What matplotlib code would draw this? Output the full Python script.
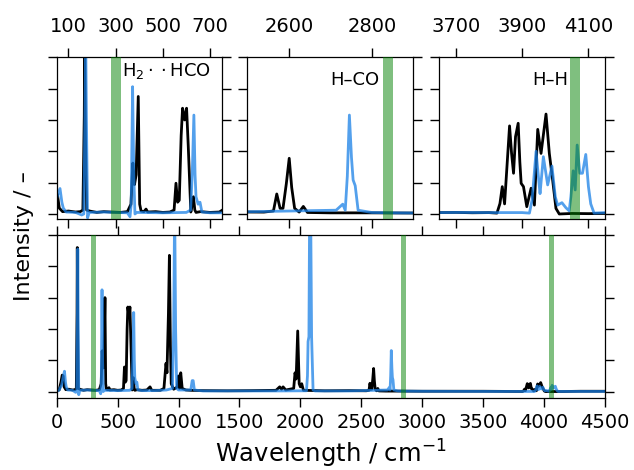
import matplotlib
matplotlib.use("Agg")
import matplotlib.pyplot as plt

# ---------------- data (normalised intensity, bottom-panel units) ----------------
black_x = [0, 20, 35, 45, 53, 61, 75, 100, 130, 150, 161, 167, 169, 172, 177, 190, 220, 250,
           280, 320, 350, 365, 373, 380, 387, 396, 402, 408, 420, 429, 436, 470, 500, 530,
           548, 556, 563, 570, 578, 584, 593, 601, 608, 613, 619, 625, 630, 636, 641, 660,
           700, 740, 766, 780, 850, 880, 897, 905, 917, 925, 933, 940, 960, 990, 999, 1008,
           1018, 1030, 1060, 1100, 1200, 1400, 1600, 1800, 1830, 1845, 1858, 1880, 1945,
           1956, 1965, 1978, 1990, 2000, 2011, 2025, 2200, 2400, 2540, 2563, 2571, 2579,
           2586, 2594, 2601, 2607, 2614, 2625, 2635, 2645, 2700, 2800, 3000, 3300, 3500,
           3650, 3700, 3750, 3800, 3824, 3833, 3840, 3847, 3855, 3862, 3868, 3874, 3880,
           3888, 3893, 3897, 3904, 3914, 3927, 3937, 3947, 3957, 3972, 3982, 3992, 4002,
           4012, 4050, 4100, 4150, 4300, 4500]
black_y = [0.004, 0.01, 0.06, 0.105, 0.10, 0.03, 0.012, 0.015, 0.010, 0.012, 0.02, 0.5, 0.92,
           0.4, 0.02, 0.015, 0.008, 0.012, 0.010, 0.008, 0.012, 0.05, 0.26, 0.15, 0.2, 0.60,
           0.05, 0.015, 0.012, 0.025, 0.010, 0.012, 0.008, 0.010, 0.02, 0.157, 0.06, 0.07,
           0.40, 0.54, 0.48, 0.54, 0.35, 0.20, 0.01, 0.05, 0.088, 0.02, 0.008, 0.012, 0.008,
           0.010, 0.03, 0.008, 0.008, 0.02, 0.18, 0.12, 0.50, 0.87, 0.30, 0.05, 0.015, 0.03,
           0.10, 0.02, 0.12, 0.02, 0.010, 0.008, 0.006, 0.005, 0.006, 0.008, 0.03, 0.015,
           0.03, 0.010, 0.02, 0.12, 0.08, 0.387, 0.05, 0.03, 0.05, 0.008, 0.005, 0.006, 0.005,
           0.008, 0.053, 0.015, 0.015, 0.08, 0.1475, 0.07, 0.015, 0.005, 0.02, 0.004, 0.003,
           0.003, 0.002, 0.002, 0.002, 0.0008, 0.0009, 0.0007, 0.0008, 0.0005, 0.006, 0.0157,
           0.0058, 0.030, 0.0506, 0.035, 0.0234, 0.0444, 0.0521, 0.030, 0.0176, 0.0157,
           0.0042, 0.0148, 0.0051, 0.0486, 0.0348, 0.0574, 0.0348, 0.0195, 0.0032, 0.0,
           0.0003, 0.0002, 0.0003, 0.002, 0.002]

blue_x = [0, 20, 40, 55, 64, 72, 78, 90, 130, 156, 165, 170, 173, 176, 181, 188, 250, 300,
          350, 361, 366, 372, 377, 382, 390, 500, 600, 618, 625, 632, 637, 641, 650, 658,
          666, 700, 800, 900, 950, 960, 968, 976, 985, 1000, 1100, 1112, 1120, 1130, 1200,
          1500, 1800, 2040, 2050, 2058, 2063, 2070, 2076, 2084, 2092, 2098, 2104, 2120,
          2400, 2714, 2730, 2736, 2741, 2746, 2751, 2755, 2760, 2767, 2800, 2850, 3000,
          3500, 3650, 3700, 3800, 3900, 3922, 3930, 3942, 3950, 3954, 3964, 3977, 3990,
          4000, 4007, 4020, 4032, 4042, 4047, 4054, 4060, 4066, 4074, 4082, 4092, 4100,
          4107, 4117, 4150, 4300, 4500]
blue_y = [0.0, 0.01, 0.04, 0.10, 0.13, 0.06, 0.03, 0.01, 0.008, -0.005, 0.0, 0.5, 0.91, 0.5,
          -0.02, 0.008, 0.010, 0.008, 0.006, -0.014, 0.05, 0.65, 0.2, 0.0, 0.008, 0.006,
          0.008, 0.02, 0.2, 0.505, 0.2, 0.088, 0.05, 0.06, 0.01, 0.006, 0.006, 0.010, 0.02,
          0.4, 1.2, 0.4, 0.02, 0.010, 0.010, 0.07, 0.07, 0.010, 0.004, 0.004, 0.004, 0.005,
          0.005, 0.10, 0.32, 0.35, 1.2, 1.2, 0.35, 0.18, 0.01, 0.004, 0.004, 0.010, 0.026,
          0.010, 0.10, 0.262, 0.15, 0.09, 0.075, 0.010, 0.004, 0.003, 0.002, 0.001, 0.0008,
          0.0009, 0.0008, 0.0008, 0.0005, 0.0081, 0.036, 0.0195, 0.0117, 0.0329, 0.0167,
          0.0275, 0.0099, 0.0051, 0.0065, 0.0036, 0.0018, 0.0099, 0.0248, 0.0138, 0.0396,
          0.0234, 0.0234, 0.0342, 0.0157, 0.0058, 0.0005, 0.0008, 0.001, 0.001]

band_centers = [300, 2840, 4060]
panel_labels = ["H$_2\\cdot\\cdot$HCO", "H\u2013CO", "H\u2013H"]
top_xlims = [(50, 750), (2500, 2900), (3650, 4150)]
top_xticks = [[100, 300, 500, 700], [2600, 2800], [3700, 3900, 4100]]
top_scales = [0.8, 0.415, 0.09]
bottom_xticks = [0, 500, 1000, 1500, 2000, 2500, 3000, 3500, 4000, 4500]

# ---------------- styling ----------------
plt.rcParams["font.family"] = ["DejaVu Sans"]
BLUE = (0.1, 0.5, 0.9)
W, H = 634.0, 470.0

fig = plt.figure(figsize=(6.34, 4.70), dpi=100)

def box(l, t, r, b):
    return [l / W, 1 - b / H, (r - l) / W, (b - t) / H]

top_boxes = [box(56.7, 57.3, 221.7, 219), box(247.3, 57.3, 413.3, 219), box(439.3, 57.3, 605, 219)]
label_pos = [(328, 0.885, "left"), (2818, 0.83, "right"), (4040, 0.83, "right")]

def style(ax):
    for s in ax.spines.values():
        s.set_linewidth(0.9)
    ax.tick_params(direction="out", length=6.5, width=1.0, labelsize=14,
                   top=True, bottom=True, left=True, right=True,
                   labelleft=False, labelright=False)

for i in range(3):
    ax = fig.add_axes(top_boxes[i])
    ax.plot(black_x, black_y, color="black", lw=2.0, zorder=2)
    ax.plot(blue_x, blue_y, color=BLUE, alpha=0.75, lw=2.0, zorder=2.5)
    ax.axvline(band_centers[i], color="green", alpha=0.5, lw=7.2, zorder=3)
    s = top_scales[i]
    ax.set_xlim(*top_xlims[i])
    ax.set_ylim(-0.032 * s, s)
    ax.set_yticks([s * k / 5 for k in range(6)])
    ax.set_xticks(top_xticks[i])
    style(ax)
    ax.tick_params(axis="x", labeltop=True, labelbottom=False, pad=9)
    lx, ly, ha = label_pos[i]
    ax.text(lx, ly, panel_labels[i], transform=ax.get_xaxis_transform(),
            ha=ha, va="baseline", fontsize=13)

axb = fig.add_axes(box(56.7, 235, 605, 398.3))
axb.plot(black_x, black_y, color="black", lw=2.0, zorder=2)
axb.plot(blue_x, blue_y, color=BLUE, alpha=0.75, lw=2.0, zorder=2.5)
for c in band_centers:
    axb.axvline(c, color="green", alpha=0.5, lw=3.6, zorder=3)
axb.set_xlim(0, 4500)
axb.set_ylim(-0.043, 1.0)
axb.set_yticks([0, 0.2, 0.4, 0.6, 0.8, 1.0])
axb.set_xticks(bottom_xticks)
style(axb)
axb.tick_params(axis="x", labeltop=False, labelbottom=True, pad=4)
axb.set_xlabel("Wavelength / cm$^{-1}$", fontsize=17.5, labelpad=4)

fig.text(24 / W, 1 - 236 / H, "Intensity / \u2013", rotation=90, ha="center", va="center",
         fontsize=16)

fig.savefig("out.png", dpi=100)
